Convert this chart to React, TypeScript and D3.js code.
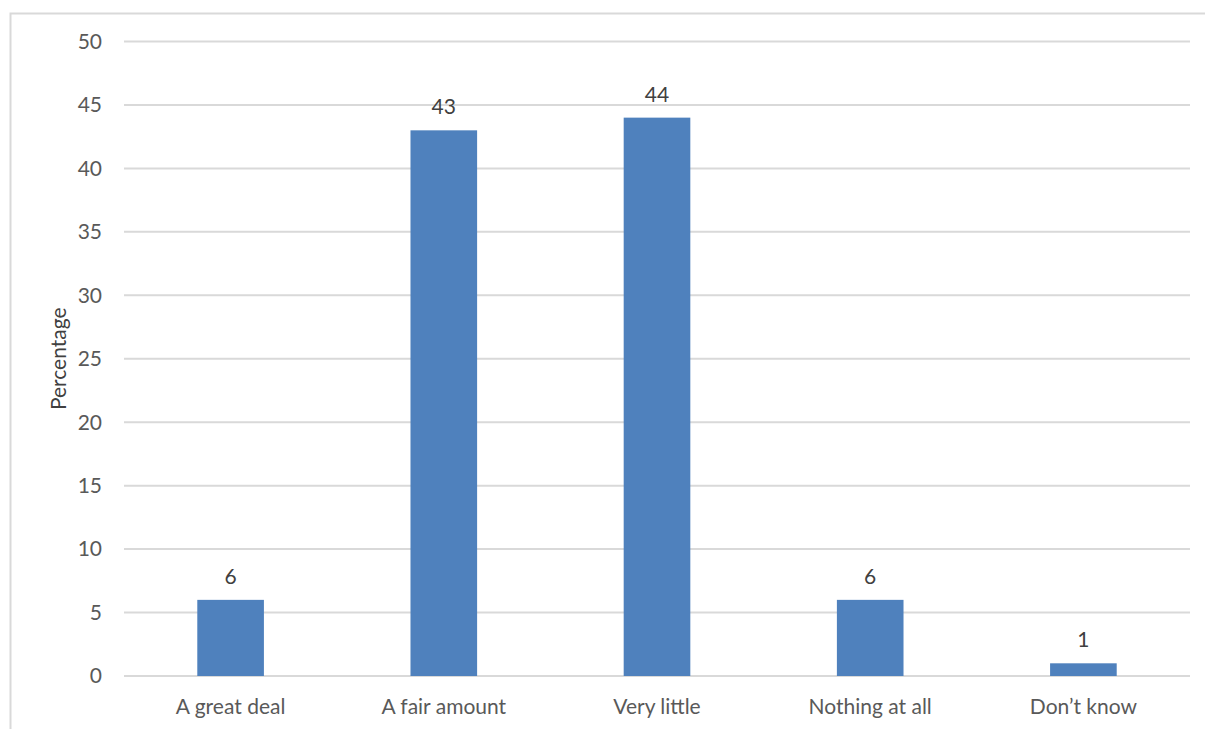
import React from "react";
import * as d3 from "d3";

// Survey responses (percentage of respondents)
const categories: string[] = ["A great deal", "A fair amount", "Very little", "Nothing at all", "Don\u2019t know"];
const values: number[] = [6, 43, 44, 6, 1];
const yTicks: number[] = [0, 5, 10, 15, 20, 25, 30, 35, 40, 45, 50];
const yAxisTitle = "Percentage";

const W = 1205;
const H = 729;
const plot = { left: 124, right: 1190, top: 41.5, bottom: 676 };
const FONT = "Lato, 'Open Sans', sans-serif";
const TEXT = "#595959";
const GRID = "#d9d9d9";
const BAR = "#4f81bd";

export default function App() {
  const x = d3.scaleBand<string>().domain(categories).range([plot.left, plot.right]).padding(0);
  const y = d3.scaleLinear().domain([0, 50]).range([plot.bottom, plot.top]);
  const barW = x.bandwidth() * 0.3125;

  return (
    <svg
      width={W}
      height={H}
      style={{ position: "absolute", left: 0, top: 0, background: "#fff" }}
      fontFamily={FONT}
    >
      {/* chart frame */}
      <rect x={10.5} y={13.5} width={W + 20} height={H + 20} fill="none" stroke={GRID} strokeWidth={2} />

      {/* horizontal gridlines and y tick labels */}
      {yTicks.map((t) => (
        <g key={t}>
          <line x1={plot.left} x2={plot.right} y1={y(t)} y2={y(t)} stroke={GRID} strokeWidth={2} />
          <text x={102} y={y(t)} dy="0.35em" textAnchor="end" fontSize={21} fill={TEXT}>
            {t}
          </text>
        </g>
      ))}

      {/* bars with value labels */}
      {categories.map((c, i) => {
        const cx = (x(c) as number) + x.bandwidth() / 2;
        return (
          <g key={c}>
            <rect x={cx - barW / 2} y={y(values[i])} width={barW} height={y(0) - y(values[i])} fill={BAR} />
            <text x={cx} y={y(values[i]) - 16} textAnchor="middle" fontSize={21} fill="#404040">
              {values[i]}
            </text>
            <text x={cx} y={714} textAnchor="middle" fontSize={21} fill={TEXT}>
              {c}
            </text>
          </g>
        );
      })}

      {/* y axis title */}
      <text
        transform={`translate(66, ${(plot.top + plot.bottom) / 2}) rotate(-90)`}
        textAnchor="middle"
        fontSize={21}
        fill="#404040"
      >
        {yAxisTitle}
      </text>
    </svg>
  );
}
